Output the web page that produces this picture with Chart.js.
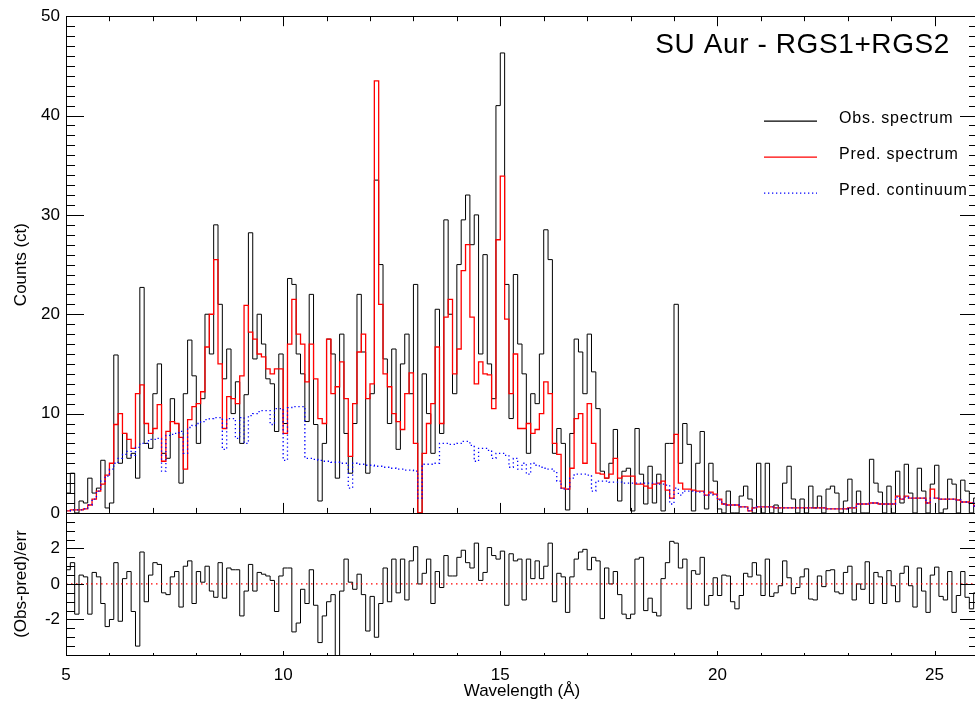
<!DOCTYPE html>
<html>
<head>
<meta charset="utf-8">
<script src="https://cdn.jsdelivr.net/npm/chart.js@4.4.0/dist/chart.umd.min.js"></script>
<style>
  html, body { margin: 0; padding: 0; background: #fff; overflow: hidden; }
  #wrap { width: 975px; height: 706px; overflow: hidden; }
  canvas { display: block; }
</style>
</head>
<body>
<div id="wrap"><canvas id="spec" width="990" height="706"></canvas></div>
<script>
// wavelength bins (Angstrom), one row of values per angstrom
const binStart = 5.0;
const binWidth = 0.1;

const obsCounts = [
  2, 4, 0, 1.2, 1, 3.5, 2, 2.5, 5.3, 0.5,
  1, 15.9, 5, 8, 5.5, 6, 3.5, 22.7, 7, 6.5,
  12, 15, 6, 5.5, 11.5, 9, 3, 12, 17.4, 13.8,
  7, 11.5, 20, 16, 29, 21, 13.5, 16.5, 10, 13.2,
  7, 11.9, 28.2, 15.5, 20, 17, 13.5, 13, 8.2, 16,
  9, 23.6, 23, 16, 14, 9.2, 22, 8.9, 1.2, 7,
  17.5, 16, 3.5, 18, 8, 4, 9, 22, 16.2, 4,
  12, 33.5, 25, 15.5, 9, 16.5, 6.4, 15, 18, 12,
  23, 0, 14, 10, 6, 20.5, 8, 29.5, 20, 12,
  25, 29.5, 32, 27, 30, 16, 26, 15, 11.5, 41,
  46.3, 23, 9.5, 24, 17, 14, 6, 12, 11, 16,
  28.5, 25.5, 6, 8.5, 7, 0.3, 8, 17.5, 16.2, 12,
  18, 14.2, 10.5, 4.2, 3.5, 5, 8.4, 1.2, 4.2, 4.5,
  0.2, 8.5, 3.9, 0.9, 4.7, 1, 3.9, 0.2, 7, 7,
  21, 5, 9, 6.9, 0.2, 5, 8.2, 0.4, 5, 3.2,
  0.4, 0, 2.2, 0, 0, 1.7, 2.7, 1.4, 0, 5,
  0, 5, 0, 0.8, 0, 3, 4.7, 1.4, 0, 1.4,
  0, 2.7, 0.5, 1.7, 0, 2.4, 2.7, 2, 0, 1.2,
  3.4, 0, 2.2, 0, 0, 5.4, 3, 2.1, 0, 2.7,
  0, 4.2, 1, 4.9, 2, 0, 4.5, 2.2, 0, 2.9,
  4.8, 0, 0.4, 3.4, 2.9, 0, 3.3, 2.2, 0, 1.5
];

const predCounts = [
  0.2, 0.3, 0.3, 0.3, 0.4, 0.8, 1.4, 2.2, 2.9, 3.8,
  5, 8.9, 10, 8, 7.4, 6.5, 12, 12.9, 9, 8,
  8.5, 10.9, 5.2, 8.2, 9.2, 9, 7.6, 4.4, 9.4, 10.7,
  11, 12.2, 16.7, 20, 25.5, 15, 8.5, 11.7, 11.5, 11,
  13.8, 20.9, 18.2, 17.5, 16, 15.7, 14.5, 14, 14.5, 14.5,
  8, 17, 21.5, 18, 17, 13.2, 17, 13.5, 9.5, 9,
  17.5, 12, 12.7, 15.2, 11.5, 5.7, 11, 16.2, 18, 11.5,
  13, 43.5, 21, 14, 12.7, 10, 9.2, 8.4, 12, 14.1,
  7, 0, 6, 9, 11, 16.7, 9, 19.7, 21.5, 14,
  16.5, 24.4, 27, 19.7, 13, 15.2, 14, 13.9, 10.5, 27.5,
  33.9, 19.5, 12, 16, 8.5, 8.5, 9, 8, 8.4, 10,
  13.2, 12, 7, 5.9, 2.5, 2.4, 4.5, 9.5, 10, 5,
  11, 7, 4, 3.9, 3.5, 3.9, 5.5, 3.5, 3.7, 3.7,
  3.7, 2.9, 2.9, 2.7, 2.5, 2.9, 3, 3.2, 2.3, 1.5,
  7.9, 3, 2.4, 2.4, 2.3, 2.2, 2.2, 1.8, 2.1, 1.9,
  1.4, 0.9, 0.8, 0.8, 0.8, 0.6, 0.6, 0.2, 0.5, 0.6,
  0.6, 0.6, 0.6, 0.5, 0.5, 0.5, 0.5, 0.5, 0.5, 0.5,
  0.5, 0.5, 0.5, 0.5, 0.5, 0.4, 0.4, 0.4, 0.4, 0.4,
  0.5, 0.5, 0.9, 0.9, 0.9, 1, 1, 0.9, 0.9, 0.9,
  0.9, 1.7, 1.4, 1.7, 1.5, 1.5, 1.5, 1.5, 1, 2.4,
  1.5, 1.4, 1.4, 1.4, 1.4, 1.3, 1.1, 1.1, 1.0, 0.7
];

const contCounts = [
  0.2, 0.3, 0.3, 0.3, 0.4, 0.8, 1.4, 2.2, 3.2, 3.7,
  4.4, 5, 5.5, 5.9, 6.2, 5.8, 6.6, 7, 7, 7.4,
  7.4, 7.5, 4.2, 7.8, 7.9, 8, 8.2, 6, 8.6, 8.8,
  9, 9.2, 9.4, 9.5, 9.6, 9.6, 6.4, 9.5, 9.5, 7.5,
  9.6, 7, 9.8, 10, 10.2, 10.3, 10.3, 8.9, 10.5, 10.5,
  5.3, 10.6, 10.7, 10.7, 10.7, 5.5, 5.5, 5.4, 5.3, 5.2,
  5.2, 5.1, 5.1, 5, 5, 2.5, 5, 4.9, 4.9, 4.8,
  4.8, 4.7, 4.7, 4.6, 4.6, 4.5, 4.4, 4.4, 4.3, 4.3,
  4.2, 1.5, 4.9, 4.9, 4.9, 5, 7, 7, 6.9, 6.9,
  7, 7.2, 7.2, 6.8, 5.2, 6.5, 6.5, 6.3, 5.5, 6,
  6, 5.8, 4.6, 5.5, 4.4, 5, 3.9, 5, 4.8, 4.6,
  4.5, 4.4, 4.2, 3.2, 2.4, 2.4, 3.5, 3.9, 3.9, 3.9,
  3.8, 2.2, 3.2, 3.2, 3.2, 3.1, 3.1, 3.1, 3, 3,
  3, 3, 3, 3, 3, 3, 2.9, 2.9, 2.8, 0.9,
  2.5, 1.8, 2.2, 2.2, 2.2, 2.1, 2.1, 1.8, 2, 1.8,
  1.3, 0.9, 0.8, 0.8, 0.8, 0.6, 0.6, 0.2, 0.5, 0.6,
  0.6, 0.6, 0.6, 0.5, 0.5, 0.5, 0.5, 0.5, 0.5, 0.5,
  0.5, 0.5, 0.5, 0.5, 0.5, 0.4, 0.4, 0.4, 0.4, 0.4,
  0.5, 0.5, 0.9, 0.9, 0.9, 1, 1, 0.9, 0.9, 0.9,
  0.9, 1.6, 1.4, 1.6, 1.5, 1.5, 1.5, 1.5, 1, 1.5,
  1.5, 1.4, 1.4, 1.4, 1.4, 1.3, 1.1, 1.1, 1.0, 0.7
];

const residuals = [
  0.8, 1.2, -1.7, 0.5, 0.4, -1.7, 0.65, 0.4, -1.1, -2.4,
  -2.0, 1.2, -2.1, 0.3, 0.7, -1.55, -3.5, 1.8, -1.0, 0.5,
  1.2, 1.1, -0.5, -0.6, 0.4, 0.7, -1.3, 1.0, 1.3, -1.1,
  0.7, 0.1, 1.0, -0.4, -0.75, 1.2, -0.8, 0.9, 0.8, 0.8,
  -1.8, -0.4, 1.1, -0.4, 0.65, 0.55, 0.45, 0.2, -1.55, 0.45,
  0.9, 0.9, -2.7, -2.2, -0.3, -1.1, 0.8, -1.2, -3.3, -1.8,
  -1.0, -0.6, -4.2, -0.4, 1.4, 0.1, -0.3, 0.55, -0.6, -2.65,
  -0.7, -3.0, -1.1, 0.9, -1.0, 1.4, -0.5, 1.4, -0.9, 1.3,
  2.1, 0, 0.6, 1.4, -1.1, 0.7, -0.2, 1.6, 0.45, 0.45,
  1.5, 1.9, 1.2, 0.9, 2.3, 0.2, 0.65, 2.05, 1.6, 1.4,
  1.85, -1.2, 1.7, 1.3, 1.4, -0.9, 1.4, 0.3, 1.3, 0.3,
  1.0, 2.3, -1.0, 0.6, 0.4, -1.6, 0.4, 1.4, 1.8, 1.95,
  0.8, 1.5, 1.3, -1.95, 0.9, 0, 0.7, -0.6, -1.7, -1.95,
  -1.7, 1.4, 1.5, -1.5, -0.8, -1.6, -1.8, 0.3, 1.2, 2.4,
  2.3, 0.9, 1.4, -1.4, 0.75, 0.55, 1.5, -1.2, -0.65, 0.35,
  -0.65, 0.5, 0.45, -1.0, -1.4, -0.65, 0.6, 0.4, 1.2, 0.5,
  -0.65, 1.4, -0.7, -0.5, -0.1, 1.3, 0.35, -0.55, -0.2, 0.4,
  0.85, -0.85, -0.9, 0.45, -0.15, 0.75, 0.8, -0.45, -0.55, 0.65,
  1.0, -0.9, 0, -0.3, 1.25, -1.1, 0.65, 0.4, -1.1, 0.75,
  -0.1, -1.0, 0.6, 1.0, -0.1, -1.3, 0.9, -0.4, -1.6, 0.5,
  0.95, -0.7, -0.9, 0.7, -1.6, -0.65, 0.7, -0.75, -1.4, -0.5
];

const xTicks = [5, 10, 15, 20, 25];
const countTicks = [0, 10, 20, 30, 40, 50];
const residTicks = [-2, 0, 2];

// histogram points: each value holds from its bin start to the next one
function steps(values) {
  const pts = values.map((v, i) => ({ x: binStart + i * binWidth, y: v }));
  pts.push({ x: binStart + values.length * binWidth, y: values[values.length - 1] });
  return pts;
}

const fontFamily = "'Liberation Sans', Arial, sans-serif";
Chart.defaults.font.family = fontFamily;
Chart.defaults.font.size = 17;
Chart.defaults.color = "#000";

function tickValues(min, max, step) {
  const out = [];
  for (let k = Math.ceil(min / step - 1e-9); k * step <= max + 1e-9; k++) out.push(k * step);
  return out;
}

// IDL-like frame: boxes, inward ticks, title and legend
const frame = {
  id: "frame",
  afterDraw(chart) {
    const { ctx, chartArea } = chart;
    const xs = chart.scales.x, ys = chart.scales.y, rs = chart.scales.yres;
    const L = chartArea.left, R = chartArea.right;
    ctx.save();
    ctx.strokeStyle = "#000";
    ctx.lineWidth = 1;
    [ys, rs].forEach(s => {
      ctx.strokeRect(Math.round(L) + 0.5, Math.round(s.top) + 0.5, Math.round(R - L), Math.round(s.bottom - s.top));
    });
    ctx.beginPath();
    const yTicks = (s, minor, major) => {
      tickValues(s.min, s.max, minor).forEach(v => {
        const isMajor = Math.abs(v / major - Math.round(v / major)) < 1e-6;
        const len = isMajor ? 18 : 9;
        const p = Math.round(s.getPixelForValue(v)) + 0.5;
        ctx.moveTo(L, p); ctx.lineTo(L + len, p);
        ctx.moveTo(R, p); ctx.lineTo(R - len, p);
      });
    };
    yTicks(ys, 1, 10);
    yTicks(rs, 0.5, 2);
    tickValues(xs.min, xs.max, 1).forEach(v => {
      const isMajor = v % 5 === 0;
      const p = Math.round(xs.getPixelForValue(v)) + 0.5;
      const a = isMajor ? 10 : 5;
      ctx.moveTo(p, ys.bottom); ctx.lineTo(p, ys.bottom - a);
      ctx.moveTo(p, ys.top); ctx.lineTo(p, ys.top + a);
      const b = isMajor ? 4 : 2;
      ctx.moveTo(p, rs.bottom); ctx.lineTo(p, rs.bottom - b);
    });
    ctx.stroke();

    // title
    ctx.fillStyle = "#000";
    ctx.font = "28px " + fontFamily;
    ctx.letterSpacing = "0.6px";
    ctx.textAlign = "right";
    ctx.textBaseline = "alphabetic";
    ctx.fillText("SU Aur - RGS1+RGS2", R - 28, ys.top + 37);

    // legend
    const rows = [
      { text: "Obs. spectrum", color: "#000", dash: [] },
      { text: "Pred. spectrum", color: "#ff0000", dash: [] },
      { text: "Pred. continuum", color: "#0000ff", dash: [1.3, 2.7] }
    ];
    ctx.font = "16px " + fontFamily;
    ctx.letterSpacing = "0.8px";
    ctx.textAlign = "left";
    rows.forEach((row, i) => {
      const ly = ys.top + 105 + i * 36;
      ctx.beginPath();
      ctx.strokeStyle = row.color;
      ctx.lineWidth = 1.3;
      ctx.setLineDash(row.dash);
      ctx.moveTo(R - 214, ly); ctx.lineTo(R - 161, ly);
      ctx.stroke();
      ctx.fillText(row.text, R - 139, ly + 1.5);
    });
    ctx.restore();
  }
};

new Chart(document.getElementById("spec"), {
  type: "line",
  data: {
    datasets: [
      { label: "Pred. continuum", data: steps(contCounts), yAxisID: "y", borderColor: "#0000ff",
        borderWidth: 1.3, borderDash: [1.3, 2.7], stepped: "before", pointRadius: 0, order: 0 },
      { label: "Pred. spectrum", data: steps(predCounts), yAxisID: "y", borderColor: "#ff0000",
        borderWidth: 1.3, stepped: "before", pointRadius: 0, order: 1 },
      { label: "Obs. spectrum", data: steps(obsCounts), yAxisID: "y", borderColor: "#000",
        borderWidth: 1, stepped: "before", pointRadius: 0, order: 2 },
      { label: "zero", data: [{ x: 5, y: 0 }, { x: 26, y: 0 }], yAxisID: "yres", borderColor: "#ff0000",
        borderWidth: 1.2, borderDash: [1.5, 3.5], pointRadius: 0, order: 1 },
      { label: "(Obs-pred)/err", data: steps(residuals), yAxisID: "yres", borderColor: "#000",
        borderWidth: 1, stepped: "before", pointRadius: 0, order: 2 }
    ]
  },
  options: {
    responsive: false,
    animation: false,
    events: [],
    layout: { padding: { top: 12, right: 12, left: 0, bottom: 0 } },
    plugins: { legend: { display: false }, tooltip: { enabled: false } },
    scales: {
      x: {
        type: "linear", min: 5, max: 26,
        grid: { display: false, drawTicks: false },
        border: { display: false },
        ticks: { padding: 10, maxRotation: 0, autoSkip: false },
        afterBuildTicks: s => { s.ticks = xTicks.map(v => ({ value: v })); },
        afterFit: s => { s.height = 51; },
        title: { display: true, text: "Wavelength (Å)", padding: { top: 0, bottom: 4 } }
      },
      // left stacked axes are placed last-defined on top
      yres: {
        axis: "y", position: "left", stack: "panels", stackWeight: 143,
        min: -4, max: 4,
        grid: { display: false, drawTicks: false },
        border: { display: false },
        ticks: { padding: 6 },
        afterBuildTicks: s => { s.ticks = residTicks.map(v => ({ value: v })); },
        afterFit: s => { s.width = 66; },
        title: { display: true, text: "(Obs-pred)/err", padding: { top: 11, bottom: 0 } }
      },
      y: {
        axis: "y", position: "left", stack: "panels", stackWeight: 500,
        min: 0, max: 50,
        grid: { display: false, drawTicks: false },
        border: { display: false },
        ticks: { padding: 6 },
        afterBuildTicks: s => { s.ticks = countTicks.map(v => ({ value: v })); },
        afterFit: s => { s.width = 66; },
        title: { display: true, text: "Counts (ct)", padding: { top: 11, bottom: 0 } }
      }
    }
  },
  plugins: [frame]
});
</script>
</body>
</html>
